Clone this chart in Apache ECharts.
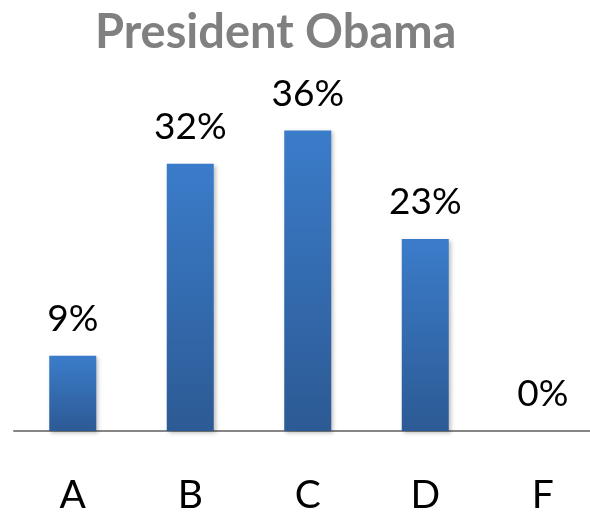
<!DOCTYPE html>
<html>
<head>
<meta charset="utf-8">
<script src="https://cdn.jsdelivr.net/npm/echarts@6/dist/echarts.min.js"></script>
<style>
  html, body { margin: 0; padding: 0; background: #ffffff; }
  #chart { width: 590px; height: 512px; }
</style>
</head>
<body>
<div id="chart"></div>
<script>
// Grade distribution for the approval chart
const grades = ['A', 'B', 'C', 'D', 'F'];
const percentages = [9, 32, 36, 23, 0];
const chartTitle = 'President Obama';

const chart = echarts.init(document.getElementById('chart'), null, { renderer: 'canvas' });

const barFill = new echarts.graphic.LinearGradient(0, 0, 0, 1, [
  { offset: 0, color: '#3b7cca' },
  { offset: 1, color: '#2c5a94' }
]);

chart.setOption({
  animation: false,
  title: {
    text: chartTitle,
    left: 90,
    top: 4,
    textStyle: {
      fontFamily: 'Lato',
      fontWeight: 'bold',
      fontSize: 47,
      color: '#808080'
    }
  },
  grid: {
    left: 14,
    width: 587.5,
    top: 97,
    bottom: 81,
    containLabel: false,
    outerBoundsMode: 'none'
  },
  xAxis: {
    type: 'category',
    data: grades,
    axisLine: { lineStyle: { color: '#868686', width: 2 } },
    axisTick: { show: false },
    axisLabel: {
      margin: 45,
      fontFamily: 'Lato',
      fontSize: 39,
      color: '#000000'
    }
  },
  yAxis: {
    type: 'value',
    min: 0,
    max: 40,
    show: false,
    splitLine: { show: false }
  },
  series: [{
    type: 'bar',
    data: percentages,
    barWidth: 47,
    itemStyle: {
      color: barFill,
      shadowColor: 'rgba(0,0,0,0.25)',
      shadowBlur: 4,
      shadowOffsetX: 2,
      shadowOffsetY: 2
    },
    label: {
      show: true,
      position: 'top',
      distance: 18,
      formatter: p => p.value + '%',
      fontFamily: 'Lato',
      fontSize: 37,
      color: '#000000'
    }
  }]
});
</script>
</body>
</html>
